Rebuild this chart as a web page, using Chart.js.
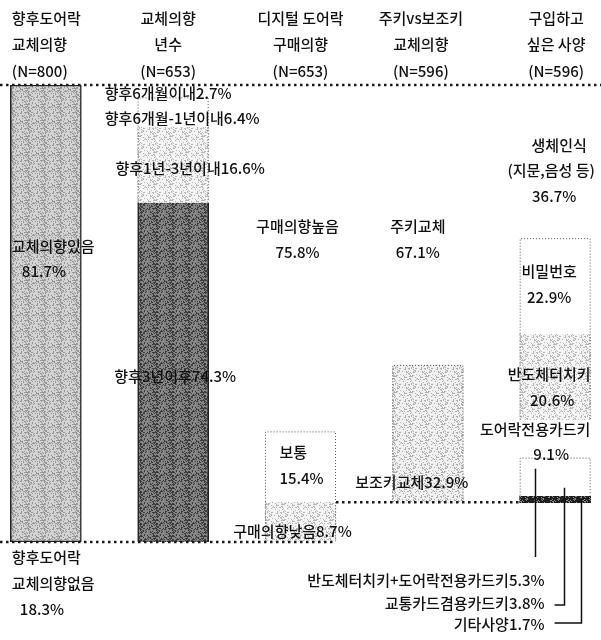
<!DOCTYPE html>
<html>
<head>
<meta charset="utf-8">
<script src="https://cdn.jsdelivr.net/npm/chart.js@4"></script>
<style>
html, body { margin: 0; background: #fff; }
#wrap { width: 601px; height: 640px; }
</style>
</head>
<body>
<div id="wrap"><canvas id="lockChart"></canvas></div>
<script>
// 컬럼 머리글
const headers = [
    ['향후도어락', '교체의향', '(N=800)'],
    ['교체의향', '년수', '(N=653)'],
    ['디지털 도어락', '구매의향', '(N=653)'],
    ['주키vs보조키', '교체의향', '(N=596)'],
    ['구입하고', '싶은 사양', '(N=596)']
];

// 구성비(%), 위에서 아래 순서
const intentLabels = ['교체의향있음', '교체의향없음'];
const intentValues = [81.7, 18.3];

const yearLabels = ['향후6개월이내', '향후6개월-1년이내', '향후1년-3년이내', '향후3년이후'];
const yearValues = [2.7, 6.4, 16.6, 74.3];

const buyLabels = ['구매의향높음', '보통', '구매의향낮음'];
const buyValues = [75.8, 15.4, 8.7];

const keyLabels = ['주키교체', '보조키교체'];
const keyValues = [67.1, 32.9];

const specLabels = ['생체인식', '비밀번호', '반도체터치키', '도어락전용카드키',
    '반도체터치키+도어락전용카드키', '교통카드겸용카드키', '기타사양'];
const specValues = [36.7, 22.9, 20.6, 9.1, 5.3, 3.8, 1.7];

const pct = v => v.toFixed(1) + '%';

// 망점 무늬 (고정된 해시로 점 배치)
function stipple(bg, fg, density) {
    const n = 16;
    const c = document.createElement('canvas');
    c.width = c.height = n;
    const g = c.getContext('2d');
    g.fillStyle = bg;
    g.fillRect(0, 0, n, n);
    g.fillStyle = fg;
    for (let y = 0; y < n; y++)
        for (let x = 0; x < n; x++) {
            const h = ((x * 73 + y * 151 + x * y * 29) ^ (x * 17 + y * 5)) % 100;
            if (h < density) g.fillRect(x, y, 1, 1);
        }
    return g.createPattern(c, 'repeat');
}

const STYLES = {
    none:  { fill: 'transparent' },
    mid:   { fill: stipple('#d3d3d3', '#979797', 32), border: '#222', width: 1.5 },
    dark:  { fill: stipple('#858585', '#3c3c3c', 34), border: '#222', width: { left: 1.5, right: 1.5, top: 0, bottom: 0 } },
    white: { fill: '#fff', outline: 'box' },
    whiteSides: { fill: '#fff', outline: 'sides' },
    light: { fill: stipple('#f4f4f4', '#b4b4b4', 22), outline: 'sides' },
    lightBox: { fill: stipple('#f1f1f1', '#adadad', 22), outline: 'box' },
    black: { fill: stipple('#1e1e1e', '#888', 20) }
};

// 각 컬럼: 100%가 차지하는 높이 비율(unit)과 모양
const columns = [
    { values: intentValues, unit: 100 / intentValues[0], styles: ['mid', 'none'] },
    { values: yearValues, unit: 1, styles: ['none', 'white', 'light', 'dark'] },
    { values: buyValues, unit: 1, styles: ['none', 'white', 'light'] },
    { values: keyValues, unit: (100 - buyValues[2]) / 100, styles: ['none', 'lightBox'] },
    { values: specValues, unit: (100 - buyValues[2]) / 100,
      styles: ['none', 'white', 'light', 'none', 'white', 'whiteSides', 'black'] }
];

const datasets = [];
const dsIndex = [];
columns.forEach((col, ci) => {
    let cum = 0;
    dsIndex.push([]);
    col.values.forEach((v, si) => {
        const hi = 100 - col.unit * cum;
        cum += v;
        const lo = 100 - col.unit * cum;
        const st = STYLES[col.styles[si]];
        dsIndex[ci].push(datasets.length);
        datasets.push({
            data: [{ x: ci, y: [lo, hi] }],
            backgroundColor: st.fill,
            borderColor: st.border || 'transparent',
            borderWidth: st.width || 0,
            borderSkipped: false,
            outline: st.outline
        });
    });
});

// 주석: [컬럼, 구간, 기준(top/bottom/floor), dx, dy, 정렬, 글자]
const notes = [
    [0, 0, 'top', -34, 161, 'left', intentLabels[0]],
    [0, 0, 'top', -24, 186, 'left', pct(intentValues[0])],
    [0, 0, 'floor', -34, 15, 'left', '향후도어락'],
    [0, 0, 'floor', -34, 41, 'left', intentLabels[1]],
    [0, 0, 'floor', -26, 67, 'left', pct(intentValues[1])],

    [1, 0, 'top', -5, 8, 'center', yearLabels[0] + pct(yearValues[0])],
    [1, 1, 'top', 9, 21, 'center', yearLabels[1] + pct(yearValues[1])],
    [1, 2, 'top', 17, 42, 'center', yearLabels[2] + pct(yearValues[2])],
    [1, 3, 'top', 2, 174, 'center', yearLabels[3] + pct(yearValues[3])],

    [2, 0, 'top', -3, 141, 'center', buyLabels[0]],
    [2, 0, 'top', -3, 167, 'center', pct(buyValues[0])],
    [2, 1, 'top', -21, 21, 'left', buyLabels[1]],
    [2, 1, 'top', -21, 47, 'left', pct(buyValues[1])],
    [2, 2, 'top', -8, 30, 'center', buyLabels[2] + pct(buyValues[2])],

    [3, 0, 'top', -10, 141, 'center', keyLabels[0]],
    [3, 0, 'top', -10, 167, 'center', pct(keyValues[0])],
    [3, 1, 'bottom', -16, -20, 'center', keyLabels[1] + pct(keyValues[1])],

    [4, 0, 'top', 4, 60, 'center', specLabels[0]],
    [4, 0, 'top', -4, 85, 'center', '(지문,음성 등)'],
    [4, 0, 'top', -1, 111, 'center', pct(specValues[0])],
    [4, 1, 'top', -6, 33, 'center', specLabels[1]],
    [4, 1, 'top', -6, 59, 'center', pct(specValues[1])],
    [4, 2, 'top', -6, 41, 'center', specLabels[2]],
    [4, 2, 'top', -3, 67, 'center', pct(specValues[2])],
    [4, 3, 'top', -20, 10, 'center', specLabels[3]],
    [4, 3, 'top', -4, 35, 'center', pct(specValues[3])]
];

// 작은 구간 지시선: [구간, 선 위치(막대 폭 비율), 끝 dy(바닥 기준), 글자 dy]
const leaders = [
    [4, 0.21, 15, 38],
    [5, 0.63, 63, 61],
    [6, 0.86, 81, 82]
];

const FONT = '500 15px "Noto Sans CJK KR", "Noto Sans", sans-serif';

const overlay = {
    id: 'overlay',
    afterDatasetsDraw(chart) {
        const { ctx, chartArea, scales: { y } } = chart;
        const bar = (ci, si) => chart.getDatasetMeta(dsIndex[ci][si]).data[0];
        const box = el => ({
            l: el.x - el.width / 2, r: el.x + el.width / 2,
            t: Math.min(el.y, el.base), b: Math.max(el.y, el.base)
        });

        // 점선 외곽
        ctx.save();
        ctx.strokeStyle = '#555';
        ctx.lineWidth = 1;
        ctx.setLineDash([1, 2]);
        chart.data.datasets.forEach((ds, i) => {
            if (!ds.outline) return;
            const b = box(chart.getDatasetMeta(i).data[0]);
            ctx.beginPath();
            ctx.moveTo(b.l + 0.5, b.b);
            ctx.lineTo(b.l + 0.5, b.t + 0.5);
            if (ds.outline === 'box') ctx.lineTo(b.r - 0.5, b.t + 0.5);
            else ctx.moveTo(b.r - 0.5, b.t + 0.5);
            ctx.lineTo(b.r - 0.5, b.b);
            ctx.stroke();
        });
        ctx.restore();

        // 굵은 점선 기준선
        const top = y.getPixelForValue(100);
        const floor = y.getPixelForValue(0);
        const base2 = y.getPixelForValue(buyValues[2]);
        const c2 = box(bar(2, 1));
        const c4 = box(bar(4, 1));
        ctx.save();
        ctx.strokeStyle = '#1a1a1a';
        ctx.lineWidth = 2.5;
        ctx.setLineDash([2.5, 3.5]);
        [[chartArea.left, top, chartArea.right], [chartArea.left, floor, c2.r], [c2.r, base2, c4.l]]
            .forEach(([x0, yy, x1]) => {
                ctx.beginPath();
                ctx.moveTo(x0, yy);
                ctx.lineTo(x1, yy);
                ctx.stroke();
            });
        ctx.restore();

        ctx.save();
        ctx.font = FONT;
        ctx.fillStyle = '#111';
        ctx.textBaseline = 'middle';

        // 머리글
        const hdx = [-34, -5, 0, -7, 1];
        headers.forEach((lines, ci) => {
            const el = bar(ci, 0);
            ctx.textAlign = ci === 0 ? 'left' : 'center';
            lines.forEach((t, k) => ctx.fillText(t, el.x + hdx[ci], top - 67 + k * 26.5));
        });

        // 구간 이름표
        notes.forEach(([ci, si, anchor, dx, dy, align, text]) => {
            const b = box(bar(ci, si));
            const ref = anchor === 'top' ? b.t : anchor === 'bottom' ? b.b : floor;
            ctx.textAlign = align;
            ctx.fillText(text, (b.l + b.r) / 2 + dx, ref + dy);
        });

        // 지시선과 작은 구간 이름표
        const first = box(bar(4, leaders[0][0]));
        const textRight = first.l + leaders[0][1] * (first.r - first.l) + 10;
        ctx.strokeStyle = '#111';
        ctx.lineWidth = 1.5;
        ctx.textAlign = 'right';
        leaders.forEach(([si, frac, endDy, textDy], k) => {
            const b = box(bar(4, si));
            const lx = Math.round(b.l + frac * (b.r - b.l)) + 0.5;
            ctx.beginPath();
            ctx.moveTo(lx, (b.t + b.b) / 2);
            ctx.lineTo(lx, floor + endDy);
            if (k > 0) ctx.lineTo(textRight + 10, floor + endDy);
            ctx.stroke();
            ctx.fillText(specLabels[si] + pct(specValues[si]), textRight, floor + textDy);
        });
        ctx.restore();
    }
};

new Chart(document.getElementById('lockChart'), {
    type: 'bar',
    data: { datasets: datasets },
    options: {
        responsive: true,
        maintainAspectRatio: false,
        animation: false,
        layout: { padding: { top: 85, bottom: 98, left: 0, right: 0 } },
        datasets: { bar: { grouped: false, barThickness: 71 } },
        scales: {
            x: { type: 'linear', offset: false, min: -0.36, max: 4.36, display: false },
            y: { min: 0, max: 100, display: false }
        },
        plugins: { legend: { display: false }, tooltip: { enabled: false } }
    },
    plugins: [overlay]
});
</script>
</body>
</html>
